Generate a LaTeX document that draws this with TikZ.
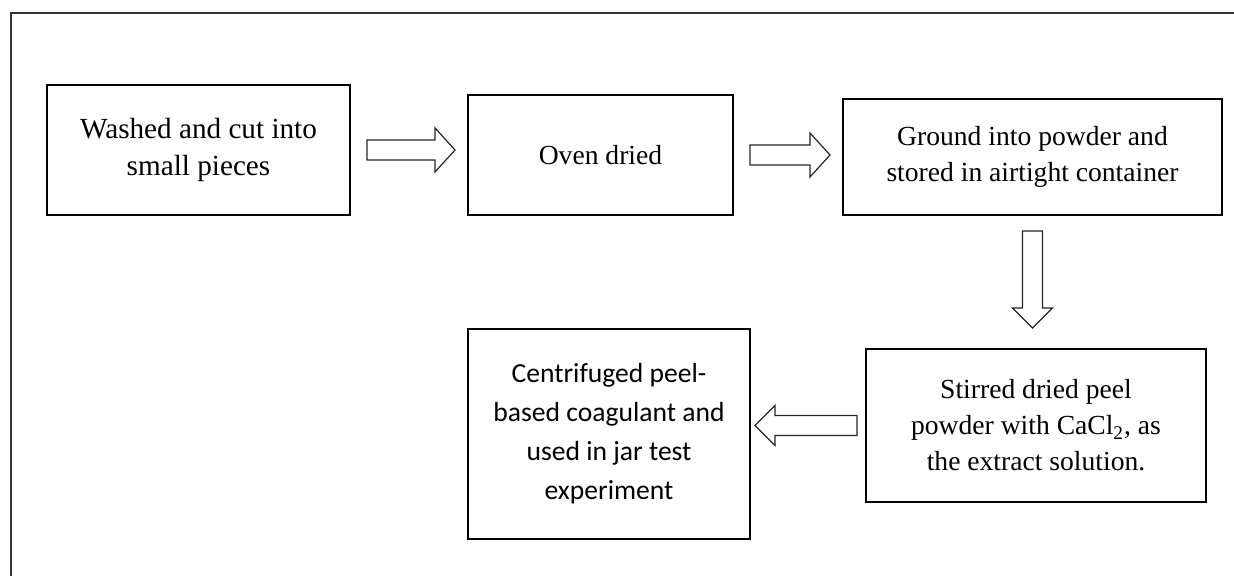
\documentclass[tikz,border=0pt]{standalone}
\usepackage{fontspec}
\setmainfont{Liberation Serif}
\newfontfamily\calibri{Carlito}
\usetikzlibrary{calc}
\tikzset{
  stepbox/.style={draw, line width=1pt, align=center, inner sep=0pt, font=\fontsize{13.8}{18}\selectfont},
  hollow/.style={draw=black!85, line width=0.6pt, fill=white},
}
\newcommand{\rightblock}[2]{\draw[hollow] let \p1=($(#1.east)+(8pt,0)$), \p2=($(#2.west)-(6pt,0)$) in
  (\x1,\y1+5pt) -- (\x2-10pt,\y1+5pt) -- (\x2-10pt,\y1+11pt) -- (\x2,\y1) -- (\x2-10pt,\y1-11pt) -- (\x2-10pt,\y1-5pt) -- (\x1,\y1-5pt) -- cycle;}
\newcommand{\leftblock}[2]{\draw[hollow] let \p1=($(#1.west)-(4pt,0)$), \p2=($(#2.east)+(2pt,0)$) in
  (\x1,\y1+5pt) -- (\x2+10pt,\y1+5pt) -- (\x2+10pt,\y1+10pt) -- (\x2,\y1) -- (\x2+10pt,\y1-10pt) -- (\x2+10pt,\y1-5pt) -- (\x1,\y1-5pt) -- cycle;}
\newcommand{\downblock}[2]{\draw[hollow] let \p1=($(#1.south)-(0,7.5pt)$), \p2=($(#2.north)+(0,10pt)$) in
  (\x1-5pt,\y1) -- (\x1-5pt,\y2+10pt) -- (\x1-10pt,\y2+10pt) -- (\x1,\y2) -- (\x1+10pt,\y2+10pt) -- (\x1+5pt,\y2+10pt) -- (\x1+5pt,\y1) -- cycle;}
\begin{document}
\begin{tikzpicture}[x=0.5pt, y=-0.5pt]
	\useasboundingbox (0,0) rectangle (1234,576);
	\clip (0,0) rectangle (1234,576);
	\draw[line width=1pt, black!80] (11,13) rectangle (1260,600);
	\node[stepbox, minimum width=151.5pt, minimum height=65pt, font=\fontsize{14.6}{18.5}\selectfont] (1) at (198.5,150) {Washed and cut into\\small pieces};
	\node[stepbox, minimum width=132.5pt, minimum height=60pt] (2) at (600.5,155) {Oven dried};
	\node[stepbox, minimum width=189.5pt, minimum height=58pt] (3) at (1032.5,157) {Ground into powder and\\stored in airtight container};
	\node[stepbox, minimum width=170pt, minimum height=76.5pt] (4) at (1036,425.5) {Stirred dried peel\\powder with CaCl\textsubscript{2}, as\\the extract solution.};
	\node[stepbox, minimum width=141pt, minimum height=105pt, font=\calibri\fontsize{13.8}{19.5}\selectfont] (5) at (609,434) {Centrifuged peel-\\based coagulant and\\used in jar test\\experiment};
	\rightblock{1}{2}
	\rightblock{2}{3}
	\downblock{3}{4}
	\leftblock{4}{5}
\end{tikzpicture}
\end{document}
